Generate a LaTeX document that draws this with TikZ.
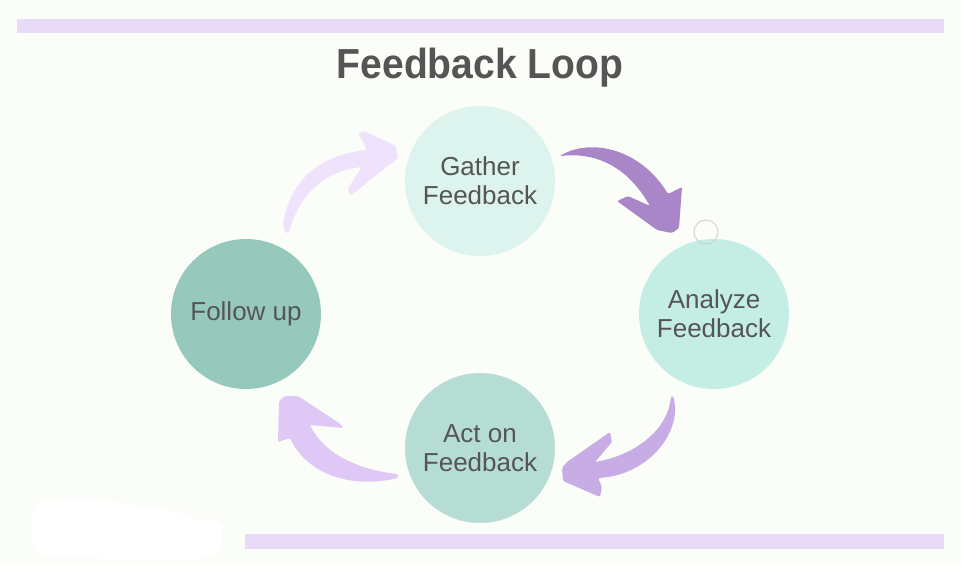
\documentclass[tikz,border=0pt]{standalone}
\usepackage{fontspec}
\setmainfont{Liberation Sans}
\definecolor{bg}{HTML}{FBFDF8}
\definecolor{bar}{HTML}{E9DAF8}
\definecolor{txt}{HTML}{555555}
\definecolor{cA}{HTML}{DDF3EE}
\definecolor{cB}{HTML}{C4EDE3}
\definecolor{cC}{HTML}{B6DDD3}
\definecolor{cD}{HTML}{96C8BB}
\definecolor{aA}{HTML}{A886C8}
\definecolor{aB}{HTML}{C8ACE5}
\definecolor{aC}{HTML}{DFC8F5}
\definecolor{aD}{HTML}{EFE2FC}
\tikzset{
  stage/.style={circle, minimum size=150pt, inner sep=0pt, text=txt, align=center,
    font=\fontsize{26}{29}\selectfont},
  bararea/.style={fill=bar, draw=none},
  curvearrow/.style={draw=none, rounded corners=1.5pt}
}
\begin{document}
\begin{tikzpicture}[x=1pt, y=-1pt]
\fill[bg] (0,0) rectangle (961,566);
\useasboundingbox (0,0) rectangle (961,566);
% bars
\fill[bararea] (17,19) rectangle (944,33);
\fill[bararea] (245,534) rectangle (944,549);
% white blob
\fill[white, rounded corners=6pt] (37,502) -- (87,497) -- (113,502) -- (180,512) -- (187,518) -- (217,520) -- (223,530) -- (220,552) -- (200,560) -- (40,558) -- (32,545) -- (33,510) -- cycle;
% title
\node[text=txt, font=\fontsize{42}{48}\bfseries\selectfont] (title) at (480,68) {\scalebox{0.93}[1]{Feedback Loop}};
% stages
\node[stage, fill=cA] (gather) at (480,181) {Gather\\Feedback};
\node[stage, fill=cB] (analyze) at (714,314) {Analyze\\Feedback};
\node[stage, fill=cC] (act) at (480,448) {Act on\\Feedback};
\node[stage, fill=cD] (follow) at (246,314) {Follow up};
% small circle
\node[circle, draw=black!20, line width=0.8pt, minimum size=24pt, inner sep=0pt] (dot) at (706,232) {};
% arrow 1 gather -> analyze
\fill[aA, curvearrow] (560,156) .. controls (590,138) and (640,148) .. (668,194) -- (682,187) -- (679,228) -- (672,233) -- (657,230) -- (617,201) -- (628,196) -- (650,206) .. controls (628,168) and (598,152) .. (560,156) -- cycle;
% arrow 2 analyze -> act
\fill[aB, curvearrow] (673,396) .. controls (683,430) and (650,475) .. (598,478) -- (602,487) -- (600,497) -- (563,481) -- (562,468) -- (567,462) -- (610,432) -- (612,442) -- (595,462) .. controls (635,455) and (668,430) .. (671,396) -- cycle;
% arrow 3 act -> follow
\fill[aC, curvearrow] (398,474) .. controls (360,470) and (325,455) .. (310,425) -- (344,428) -- (339,423) -- (298,396) -- (285,396) -- (279,401) -- (278,442) -- (290,438) .. controls (305,470) and (345,490) .. (398,478) -- cycle;
% arrow 4 follow -> gather
\fill[aD, curvearrow] (286,233) -- (283,225) .. controls (290,180) and (320,155) .. (367,150) -- (358,133) -- (364,131) -- (396,146) -- (398,158) -- (350,196) -- (348,188) -- (362,167) .. controls (330,170) and (300,190) .. (289,233) -- cycle;
\end{tikzpicture}
\end{document}
